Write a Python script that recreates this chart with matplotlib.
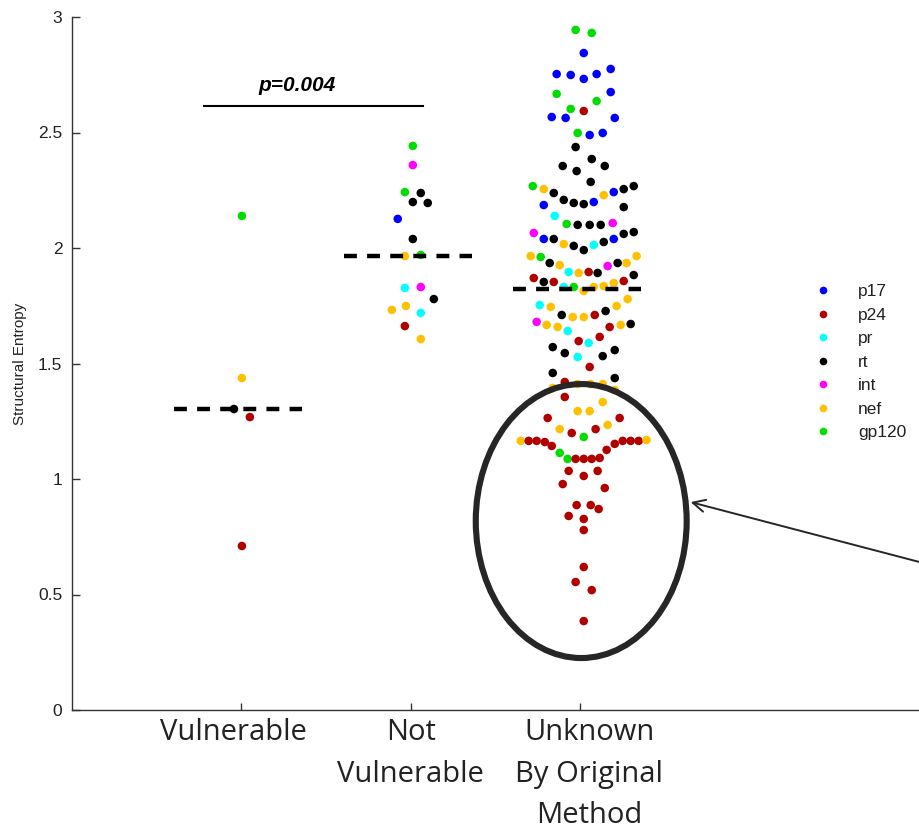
import numpy as np
import matplotlib
matplotlib.use("Agg")
import matplotlib.pyplot as plt
from matplotlib.lines import Line2D
from matplotlib.patches import Ellipse
import matplotlib.transforms as mtransforms

# ---------------- data ----------------
categories = ["Vulnerable", "Not\nVulnerable", "Unknown\nBy Original\nMethod"]
proteins = ["p17", "p24", "pr", "rt", "int", "nef", "gp120"]
protein_colors = ["#0000FF", "#B00000", "#00FFFF", "#000000", "#FF00FF", "#FFC000", "#00DD00"]
code_map = {"b": "p17", "r": "p24", "c": "pr", "k": "rt", "m": "int", "y": "nef", "g": "gp120"}

# group 1: Vulnerable
vul_values = [2.139, 1.437, 1.303, 1.268, 0.710]
vul_offsets = [0.003, 0.003, -0.044, 0.050, 0.003]
vul_codes = "gykrr"

# group 2: Not Vulnerable
notvul_values = [2.442, 2.359, 2.242, 2.238, 2.199, 2.195, 2.126, 2.039, 1.965,
                 1.970, 1.827, 1.831, 1.779, 1.732, 1.749, 1.719, 1.662, 1.606]
notvul_offsets = [0.012, 0.012, -0.035, 0.059, 0.012, 0.100, -0.077, 0.012, -0.035,
                  0.059, -0.035, 0.059, 0.136, -0.112, -0.029, 0.059, -0.035, 0.059]
notvul_codes = "gmgkkkbkygcmkyycry"

# group 3: Unknown by original method
unk_values = [
    2.944, 2.931, 2.844, 2.753, 2.749, 2.732, 2.753, 2.775, 2.667, 2.675,
    2.636, 2.602, 2.593, 2.567, 2.563, 2.563, 2.498, 2.489, 2.498, 2.437,
    2.385, 2.355, 2.355, 2.333, 2.286, 2.268, 2.255, 2.238, 2.208, 2.195,
    2.190, 2.199, 2.229, 2.242, 2.255, 2.268, 2.186, 2.177, 2.139, 2.104,
    2.100, 2.100, 2.100, 2.108, 2.065, 2.039, 2.039, 2.017, 2.009, 1.991,
    2.013, 2.026, 2.039, 2.061, 2.069, 1.965, 1.961, 1.935, 1.926, 1.896,
    1.892, 1.896, 1.892, 1.922, 1.935, 1.935, 1.965, 1.870, 1.853, 1.853,
    1.831, 1.831, 1.814, 1.831, 1.835, 1.848, 1.857, 1.883, 1.779, 1.753,
    1.745, 1.749, 1.710, 1.701, 1.701, 1.710, 1.727, 1.680, 1.667, 1.658,
    1.641, 1.658, 1.667, 1.671, 1.597, 1.589, 1.615, 1.571, 1.545, 1.558,
    1.532, 1.528, 1.485, 1.459, 1.437, 1.420, 1.394, 1.411, 1.411, 1.411,
    1.385, 1.355, 1.333, 1.294, 1.294, 1.264, 1.264, 1.216, 1.199, 1.182,
    1.216, 1.234, 1.165, 1.165, 1.165, 1.160, 1.143, 1.113, 1.087, 1.087,
    1.087, 1.087, 1.091, 1.126, 1.152, 1.165, 1.165, 1.165, 1.169, 1.035,
    1.035, 1.013, 0.978, 0.961, 0.887, 0.887, 0.870, 0.840, 0.827, 0.779,
    0.619, 0.554, 0.519, 0.385]
unk_offsets = [
    -0.027, 0.068, 0.021, -0.139, -0.056, 0.021, 0.097, 0.180, -0.139, 0.180,
    0.097, -0.056, 0.021, -0.168, -0.086, 0.204, -0.015, 0.056, 0.133, -0.027,
    0.068, -0.103, 0.145, -0.021, 0.062, -0.280, -0.215, -0.156, -0.097, -0.038,
    0.021, 0.080, 0.139, 0.198, 0.257, 0.316, -0.215, 0.257, -0.150, -0.080,
    -0.015, 0.056, 0.121, 0.192, -0.274, -0.215, -0.156, -0.097, -0.038, 0.021,
    0.080, 0.139, 0.198, 0.257, 0.316, -0.292, -0.233, -0.180, -0.121, -0.068,
    -0.009, 0.050, 0.103, 0.162, 0.221, 0.274, 0.333, -0.274, -0.215, -0.156,
    -0.097, -0.038, 0.021, 0.080, 0.139, 0.198, 0.257, 0.316, 0.280, -0.239,
    -0.174, 0.215, -0.109, -0.044, 0.021, 0.086, 0.150, -0.257, -0.198, -0.133,
    -0.074, 0.174, 0.239, 0.298, -0.009, 0.050, 0.115, -0.162, -0.091, 0.204,
    0.133, -0.015, 0.056, -0.162, 0.204, -0.091, -0.162, -0.015, 0.062, 0.133,
    0.204, -0.091, 0.133, -0.015, 0.056, -0.192, 0.233, -0.121, -0.050, 0.021,
    0.091, 0.162, -0.351, -0.304, -0.257, -0.209, -0.168, -0.121, -0.074, -0.027,
    0.021, 0.068, 0.115, 0.156, 0.204, 0.251, 0.298, 0.345, 0.392, -0.068,
    0.103, 0.021, -0.103, 0.145, -0.021, 0.062, 0.109, -0.068, 0.021, 0.021,
    0.021, -0.027, 0.068, 0.021]
unk_codes = ("ggbbbbbbgb" "ggrbbbgbbk" "kkkkkgykkk" "kbybkkbkcg"
             "kkkmmbkykk" "ckbkkygkyc" "yrkmkyyrkr" "cgyyyyrkyc"
             "yykyyrkmyy" "crykrcrkkk" "kcrkkryyyy" "yryyyrryrg"
             "ryyrrrrggr" "rrrrrrrryr" "rrrrrrrrrr" "rrrr")

p_text = "p=0.004"

groups = [(vul_values, vul_offsets, vul_codes),
          (notvul_values, notvul_offsets, notvul_codes),
          (unk_values, unk_offsets, unk_codes)]

# ---------------- figure ----------------
W, H = 919, 831
fig = plt.figure(figsize=(W / 100, H / 100), dpi=100)
ax = fig.add_axes([72 / W, 121 / H, (W - 72) / W, 693 / H])
ax.set_xlim(0, 5)
ax.set_ylim(0, 3)

color_of = dict(zip(proteins, protein_colors))
for i, (vals, offs, codes) in enumerate(groups):
    cat = i + 1
    xs = cat + np.asarray(offs)
    cols = [color_of[code_map[c]] for c in codes]
    ax.scatter(xs, vals, s=38, c=cols, linewidths=0, zorder=2, clip_on=False)
    med = np.median(vals)
    ax.plot([cat - 0.395, cat + 0.36], [med, med], color="black", lw=3.2,
            ls=(0, (2.9, 2.3)), dash_capstyle="butt", zorder=3)

# significance bracket
ax.plot([0.779, 2.071], [2.615, 2.615], color="black", lw=1.5, zorder=3)
ax.text(1.327, 2.703, p_text, ha="center", va="center", fontsize=15,
        fontweight="bold", fontstyle="italic", family="Liberation Sans", color="black")

# ellipse and arrow
ax.add_patch(Ellipse((3.006, 0.818), 1.245, 1.186, fill=False, lw=4.4,
                     edgecolor="#262626", zorder=4))
ax.annotate("", xy=(3.652, 0.900), xytext=(5.475, 0.55),
            arrowprops=dict(arrowstyle="->", lw=1.4, color="#262626",
                            mutation_scale=22, shrinkA=0, shrinkB=0),
            annotation_clip=False, zorder=5)

# axes styling
for s in ["top", "right"]:
    ax.spines[s].set_visible(False)
for s in ["left", "bottom"]:
    ax.spines[s].set_color("#333333")
    ax.spines[s].set_linewidth(1.0)

ax.set_yticks([0, 0.5, 1, 1.5, 2, 2.5, 3])
ax.set_yticklabels(["0", "0.5", "1", "1.5", "2", "2.5", "3"],
                   family="Liberation Sans", fontsize=12.5)
ax.tick_params(axis="y", direction="in", length=6, width=1, colors="#333333", pad=7)
ax.set_xticks([1, 2, 3])
ax.set_xticklabels(categories, family="Open Sans", fontsize=21, linespacing=1.57)
ax.tick_params(axis="x", direction="in", length=5, width=1, colors="#333333", pad=6)
for lab in ax.get_xticklabels() + ax.get_yticklabels():
    lab.set_color("#222222")
# small horizontal nudges of the category labels, as in the reference
for lab, dx in zip(ax.get_xticklabels(), [-8, 0, 9]):
    lab.set_transform(lab.get_transform() +
                      mtransforms.ScaledTranslation(dx / 100, 0, fig.dpi_scale_trans))
ax.set_ylabel("Structural Entropy", family="Liberation Sans", fontsize=11,
              color="#222222", labelpad=8)

# legend
handles = [Line2D([], [], marker="o", ls="", color=c, markersize=5.5, markeredgewidth=0)
           for c in protein_colors]
fig.legend(handles, proteins, loc="upper left", bbox_to_anchor=(814 / W, 1 - 284 / H),
           frameon=False, prop={"family": "Liberation Sans", "size": 12.5},
           handlelength=1.0, handletextpad=1.53, labelspacing=0.48,
           borderpad=0, borderaxespad=0, labelcolor="#222222")

fig.savefig("out.png", dpi=100)
